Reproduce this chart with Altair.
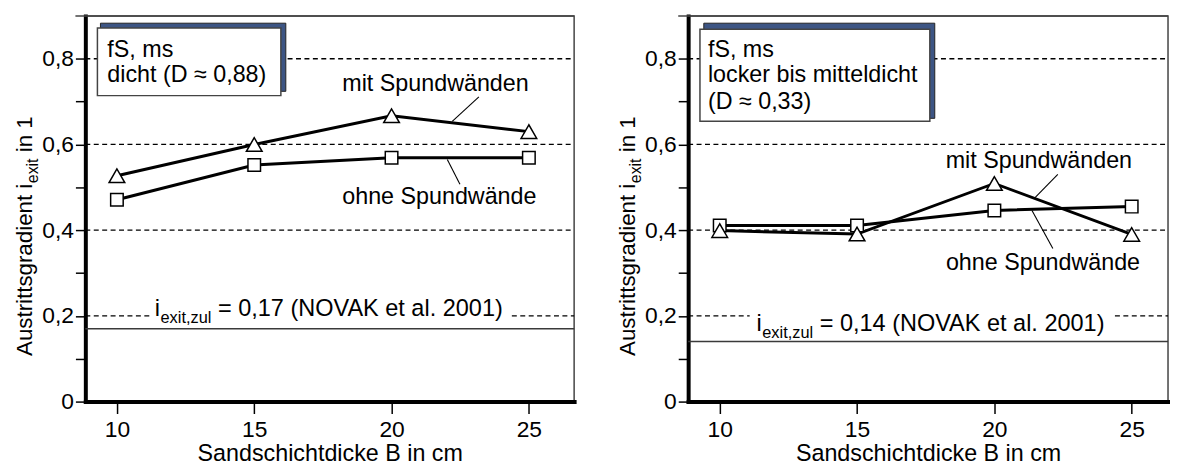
import altair as alt
import pandas as pd

FONT = "Liberation Sans"
PX = 27.7          # pixels per cm on the x axis
H = 389            # plot height
XMIN = 8.85

# ---------------- data ----------------
B = [10, 15, 20, 25]
left_mit = [0.527, 0.600, 0.667, 0.630]
left_ohne = [0.471, 0.552, 0.569, 0.569]
right_mit = [0.399, 0.391, 0.509, 0.390]
right_ohne = [0.411, 0.411, 0.446, 0.455]
limit_left = 0.17
limit_right = 0.14
grid_levels = [0.2, 0.4, 0.6, 0.8]
y_ticks = [0, 0.1, 0.2, 0.3, 0.4, 0.5, 0.6, 0.7, 0.8]
x_ticks = [10, 15, 20, 25]

box_left_lines = ["fS, ms", "dicht (D \u2248 0,88)"]
box_right_lines = ["fS, ms", "locker bis mitteldicht", "(D \u2248 0,33)"]
series_labels = ["mit Spundwänden", "ohne Spundwände"]

# annotation anchors (data units: B in cm, gradient)
left_box = [9.29, 15.97, 0.872, 0.714]
left_shadow = [9.40, 16.15, 0.883, 0.724]
left_box_text = [9.65, [0.805, 0.745]]
left_label_pos = [[21.6, 0.724], [21.74, 0.46]]
left_leaders = [[23.18, 0.711, 22.21, 0.654], [22.03, 0.565, 22.49, 0.507]]
left_limit_pos = [11.38, 0.199]
left_gap = [11.2, 24.38]

right_box = [9.28, 17.65, 0.869, 0.654]
right_shadow = [9.42, 17.83, 0.883, 0.661]
right_box_text = [9.57, [0.805, 0.745, 0.682]]
right_label_pos = [[21.62, 0.546], [21.77, 0.3075]]
right_leaders = [[22.31, 0.530, 21.48, 0.476], [21.37, 0.446, 22.13, 0.357]]
right_limit_pos = [11.34, 0.164]
right_gap = [11.09, 24.39]

# Arial / Liberation Sans advance widths (per 1000 em)
AW = {'A': 667, 'u': 556, 's': 500, 't': 278, 'r': 333, 'i': 222, 'g': 556, 'a': 556,
      'd': 556, 'e': 556, 'n': 556, ' ': 278, 'x': 500, ',': 278, 'z': 500, 'l': 222,
      '=': 584, '0': 556, '1': 556, '2': 556, '4': 556, '7': 556, '(': 333, ')': 333,
      'N': 722, 'O': 778, 'V': 667, 'K': 667, '.': 278}


def tw(s, fs):
    return sum(AW.get(c, 556) for c in s) * fs / 1000.0


def text_layer(rows, fs, **kw):
    return alt.Chart(pd.DataFrame(rows)).mark_text(font=FONT, fontSize=fs, color="black", **kw)


X_AX = alt.Axis(values=x_ticks, title="Sandschichtdicke B in cm", tickSize=12,
                labelPadding=5, titlePadding=0, format="d")
Y_AX = alt.Axis(values=y_ticks, title=None, tickSize=10, labelPadding=2,
                labelExpr="datum.value == 0 ? '0' : (round(datum.value*10) % 2 == 0 ? replace(format(datum.value, '.1f'), '.', ',') : '')")


def panel(width, mit, ohne, limit, box, shadow, box_text, box_lines, label_pos, leaders, limit_pos, gap):
    xmax = XMIN + width / PX
    xs = alt.Scale(domain=[XMIN, xmax], nice=False, zero=False)
    ys = alt.Scale(domain=[0, 0.9], nice=False, zero=False)

    def X(f):
        return alt.X(f, scale=xs, axis=X_AX)

    def Y(f):
        return alt.Y(f, scale=ys, axis=Y_AX)

    df = pd.DataFrame({
        "B": B + B,
        "v": mit + ohne,
        "s": ["mit"] * 4 + ["ohne"] * 4,
    })

    # gridlines
    grows = []
    for g in grid_levels:
        if g == 0.2:
            grows.append({"y": g, "x1": XMIN, "x2": gap[0]})
            grows.append({"y": g, "x1": gap[1], "x2": xmax})
        else:
            grows.append({"y": g, "x1": XMIN, "x2": xmax})
    grid = alt.Chart(pd.DataFrame(grows)).mark_rule(
        color="black", strokeWidth=1.3, strokeDash=[5, 3.5]
    ).encode(x=X("x1:Q"), x2="x2:Q", y=Y("y:Q"))

    lim = alt.Chart(pd.DataFrame({"y": [limit], "x1": [XMIN], "x2": [xmax]})).mark_rule(
        color="#3a3a3a", strokeWidth=1.5
    ).encode(x=X("x1:Q"), x2="x2:Q", y=Y("y:Q"))

    top = alt.Chart(pd.DataFrame({"a": [0]})).mark_rule(color="#444", strokeWidth=1.5).encode(
        x=alt.value(-10), x2=alt.value(width), y=alt.value(0))

    sh = alt.Chart(pd.DataFrame({"x1": [shadow[0]], "x2": [shadow[1]], "y1": [shadow[2]], "y2": [shadow[3]]})).mark_rect(
        fill="#3d5584", stroke="#222", strokeWidth=1
    ).encode(x=X("x1:Q"), x2="x2:Q", y=Y("y1:Q"), y2="y2:Q")
    bx = alt.Chart(pd.DataFrame({"x1": [box[0]], "x2": [box[1]], "y1": [box[2]], "y2": [box[3]]})).mark_rect(
        fill="white", stroke="#444", strokeWidth=1.5
    ).encode(x=X("x1:Q"), x2="x2:Q", y=Y("y1:Q"), y2="y2:Q")

    btxt = text_layer({"x": [box_text[0]] * len(box_lines), "y": box_text[1], "t": box_lines}, 23.5,
                      align="left", baseline="alphabetic").encode(
        x=X("x:Q"), y=Y("y:Q"), text="t:N")

    lines = alt.Chart(df).mark_line(color="black", strokeWidth=3).encode(
        x=X("B:Q"), y=Y("v:Q"), detail="s:N")
    sq = alt.Chart(df[df.s == "ohne"]).mark_point(
        shape="square", size=160, filled=True, fill="white", stroke="black", strokeWidth=1.5, opacity=1
    ).encode(x=X("B:Q"), y=Y("v:Q"))
    tri = alt.Chart(df[df.s == "mit"]).mark_point(
        shape="triangle-up", size=250, filled=True, fill="white", stroke="black", strokeWidth=1.5, opacity=1
    ).encode(x=X("B:Q"), y=Y("v:Q"))

    lab = text_layer({"x": [p[0] for p in label_pos], "y": [p[1] for p in label_pos], "t": series_labels}, 23.5,
                     align="center", baseline="alphabetic").encode(
        x=X("x:Q"), y=Y("y:Q"), text="t:N")
    lead = alt.Chart(pd.DataFrame({
        "x1": [l[0] for l in leaders], "y1": [l[1] for l in leaders],
        "x2": [l[2] for l in leaders], "y2": [l[3] for l in leaders]})).mark_rule(
        color="black", strokeWidth=1.1
    ).encode(x=X("x1:Q"), y=Y("y1:Q"), x2="x2:Q", y2="y2:Q")

    # limit label: i_{exit,zul} = 0,17 (NOVAK et al. 2001)
    main_fs, sub_fs = 23.7, 16.5
    rest = "= " + ("0,17" if limit == limit_left else "0,14") + " (NOVAK et al. 2001)"
    w_i = tw("i", main_fs)
    w_sub = tw("exit,zul", sub_fs)
    w_sp = tw(" ", main_fs)
    lp = {"x": [limit_pos[0]], "y": [limit_pos[1]]}
    l1 = text_layer({**lp, "t": ["i"]}, main_fs, align="left", baseline="alphabetic").encode(
        x=X("x:Q"), y=Y("y:Q"), text="t:N")
    l2 = text_layer({**lp, "t": ["exit,zul"]}, sub_fs, align="left", baseline="alphabetic",
                    dx=w_i + 0.5, dy=6.5).encode(
        x=X("x:Q"), y=Y("y:Q"), text="t:N")
    l3 = text_layer({**lp, "t": [rest]}, main_fs, align="left", baseline="alphabetic",
                    dx=w_i + 0.5 + w_sub + w_sp).encode(
        x=X("x:Q"), y=Y("y:Q"), text="t:N")

    # y-axis title with subscript: Austrittsgradient i_exit in 1
    tfs, tsub = 22.5, 16
    p1 = "Austrittsgradient i"
    p2 = "exit"
    p3 = "in 1"
    w1 = tw(p1, tfs)
    w2 = tw(p2, tsub)
    wsp = tw(" ", tfs)
    ty = {"a": [0]}
    t1 = text_layer({**ty, "t": [p1]}, tfs, align="left", baseline="alphabetic", angle=270).encode(
        x=alt.value(-54), y=alt.value(343), text="t:N")
    t2 = text_layer({**ty, "t": [p2]}, tsub, align="left", baseline="alphabetic", angle=270,
                    dx=w1 + 0.5, dy=6).encode(x=alt.value(-54), y=alt.value(343), text="t:N")
    t3 = text_layer({**ty, "t": [p3]}, tfs, align="left", baseline="alphabetic", angle=270,
                    dx=w1 + 0.5 + w2 + wsp).encode(x=alt.value(-54), y=alt.value(343), text="t:N")

    return alt.layer(grid, lim, top, sh, bx, btxt, lines, sq, tri, lab, lead, l1, l2, l3, t1, t2, t3).properties(
        width=width, height=H)


left = panel(493, left_mit, left_ohne, limit_left, left_box, left_shadow, left_box_text, box_left_lines,
             left_label_pos, left_leaders, left_limit_pos, left_gap)
right = panel(484, right_mit, right_ohne, limit_right, right_box, right_shadow, right_box_text, box_right_lines,
              right_label_pos, right_leaders, right_limit_pos, right_gap)

chart = alt.hconcat(left, right, spacing=115, bounds="flush").properties(
    padding={"left": 5, "top": 4, "right": 0, "bottom": 0}
).configure_view(
    stroke="#444", strokeWidth=1.5
).configure_axis(
    labelFont=FONT, labelFontSize=23, labelColor="black",
    titleFont=FONT, titleFontSize=23.5, titleFontWeight="normal", titleColor="black",
    domainColor="black", domainWidth=4, domainCap="square",
    tickColor="black", tickWidth=1.5, grid=False, labelFlush=False, labelOverlap=False
)

chart.save("out.html", embed_options={"renderer": "svg", "actions": False})
